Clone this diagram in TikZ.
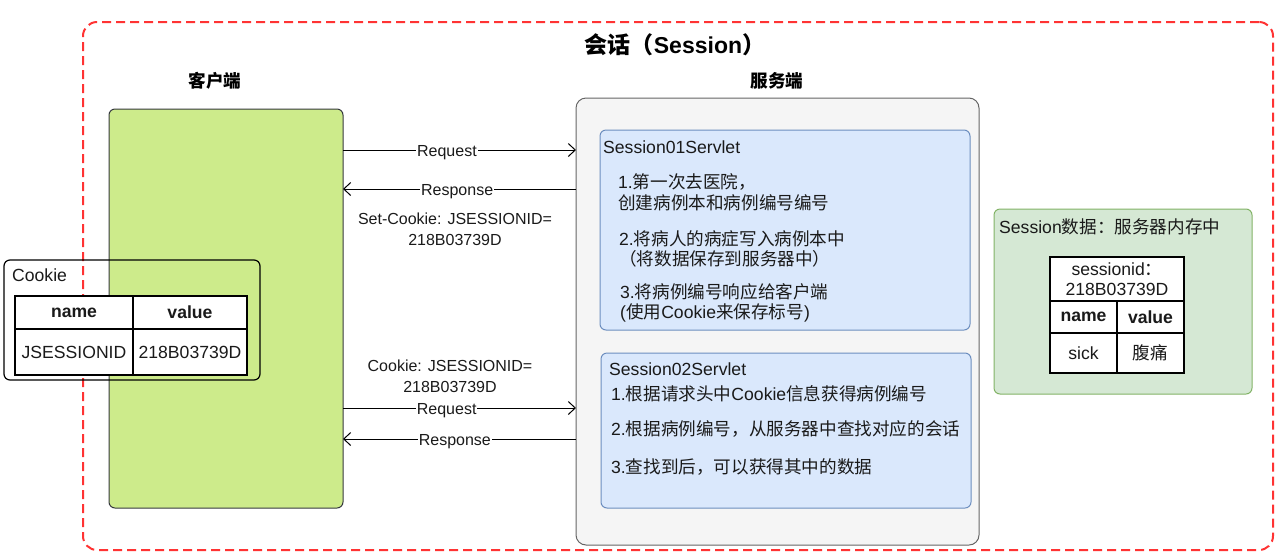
\documentclass[tikz,border=0pt]{standalone}
\usepackage{fontspec}
\setmainfont{Liberation Sans}
\newfontfamily\cjk{Noto Sans CJK SC}
\usetikzlibrary{arrows.meta}
\newcommand\zh[1]{{\cjk #1}}
\definecolor{dashred}{HTML}{FF3333}
\definecolor{clientgreen}{HTML}{CDEB8B}
\definecolor{clientline}{HTML}{36393D}
\definecolor{servergray}{HTML}{F5F5F5}
\definecolor{serverline}{HTML}{666666}
\definecolor{servletblue}{HTML}{DAE8FC}
\definecolor{servletline}{HTML}{6C8EBF}
\definecolor{datagreen}{HTML}{D5E8D4}
\definecolor{dataline}{HTML}{82B366}
\definecolor{txt}{HTML}{1A1A1A}
\tikzset{
  box/.style={draw, rectangle, inner sep=0pt, outer sep=0pt, anchor=north west, line width=1pt},
  cell/.style={draw, rectangle, line width=1.3pt, fill=white, inner sep=0pt, outer sep=0pt,
    anchor=north west, align=center, text=txt, font=\fontsize{17.6}{20.5}\selectfont},
  body/.style={text=txt, inner sep=0pt, align=left, font=\fontsize{17.6}{20.5}\selectfont},
  heading/.style={text=black, inner sep=0pt, font=\fontsize{17.6}{20.5}\selectfont\bfseries},
  arr/.style={-{Straight Barb[length=7pt,width=13pt]}, line width=1pt, draw=black},
  lbl/.style={fill=white, inner sep=1pt, yshift=-2.5pt, text=txt, font=\fontsize{16}{19}\selectfont},
  note/.style={text=txt, inner sep=0pt, align=center, font=\fontsize{16}{21}\selectfont}
}
\begin{document}
\begin{tikzpicture}[x=1pt,y=-1pt]
\useasboundingbox (0,0) rectangle (1280,558);
% outer session frame
\node[box, draw=dashred, line width=2pt, dash pattern=on 9pt off 5pt, rounded corners=14pt,
  minimum width=1190pt, minimum height=528pt] (frame) at (83,22) {};
\node[text=black, inner sep=0pt, font=\fontsize{23}{26}\selectfont\bfseries] (title) at (675,45)
  {\zh{会话（}Session\zh{）}};
\node[heading] (clienthead) at (215,81) {\zh{客户端}};
\node[heading] (serverhead) at (777,81) {\zh{服务端}};
% client and server
\node[box, draw=clientline, fill=clientgreen, rounded corners=6pt,
  minimum width=234pt, minimum height=399pt] (client) at (109,109) {};
\node[box, draw=serverline, fill=servergray, rounded corners=10pt,
  minimum width=403pt, minimum height=447pt] (server) at (576,98) {};
% servlets
\node[box, draw=servletline, fill=servletblue, rounded corners=6pt,
  minimum width=370pt, minimum height=200pt] (s1) at (600,130) {};
\node[box, draw=servletline, fill=servletblue, rounded corners=6pt,
  minimum width=370pt, minimum height=155pt] (s2) at (601,353) {};
\node[body, anchor=west] (s1title) at (603,147) {Session01Servlet};
\node[body, anchor=west] (s1a) at (618,192) {1.\zh{第一次去医院，}\\\zh{创建病例本和病例编号编号}};
\node[body, anchor=west] (s1b) at (619,249) {2.\zh{将病人的病症写入病例本中}\\\zh{（将数据保存到服务器中）}};
\node[body, anchor=west] (s1c) at (620,303) {3.\zh{将病例编号响应给客户端}\\(\zh{使用}Cookie\zh{来保存标号})};
\node[body, anchor=west] (s2title) at (609,369) {Session02Servlet};
\node[body, anchor=west] (s2a) at (611,394) {1.\zh{根据请求头中}Cookie\zh{信息获得病例编号}};
\node[body, anchor=west] (s2b) at (611,429) {2.\zh{根据病例编号，从服务器中查找对应的会话}};
\node[body, anchor=west] (s2c) at (611,467) {3.\zh{查找到后，可以获得其中的数据}};
% session data
\node[box, draw=dataline, fill=datagreen, rounded corners=6pt,
  minimum width=258pt, minimum height=185pt] (data) at (994,209) {};
\node[body, anchor=west] (datatitle) at (999,227) {Session\zh{数据：服务器内存中}};
\node[cell, minimum width=134pt, minimum height=44pt] (sid) at (1050,257) {sessionid\zh{：}\\218B03739D};
\node[cell, minimum width=67pt, minimum height=32pt, font=\fontsize{17.6}{20.5}\selectfont\bfseries] (dname) at (1050,301) {name};
\node[cell, minimum width=67pt, minimum height=32pt, font=\fontsize{17.6}{20.5}\selectfont\bfseries] (dvalue) at (1117,301) {value};
\node[cell, minimum width=67pt, minimum height=40pt] (dsick) at (1050,333) {sick};
\node[cell, minimum width=67pt, minimum height=40pt] (dpain) at (1117,333) {\zh{腹痛}};
% cookie
\node[box, draw=black, rounded corners=6pt, line width=1.2pt,
  minimum width=256pt, minimum height=120pt] (cookie) at (4,260) {};
\node[body, anchor=west] (cookietitle) at (12,275) {Cookie};
\node[cell, minimum width=118pt, minimum height=33pt, font=\fontsize{17.6}{20.5}\selectfont\bfseries] (cname) at (15,296) {name};
\node[cell, minimum width=114pt, minimum height=33pt, font=\fontsize{17.6}{20.5}\selectfont\bfseries] (cvalue) at (133,296) {value};
\node[cell, minimum width=118pt, minimum height=46pt] (cid) at (15,329) {JSESSIONID};
\node[cell, minimum width=114pt, minimum height=46pt] (cval) at (133,329) {218B03739D};
% connectors
\coordinate (y1) at (0,150);
\coordinate (y2) at (0,189);
\coordinate (y3) at (0,408);
\coordinate (y4) at (0,439);
\draw[arr] (client.east |- y1) -- node[lbl, pos=0.446] (req1) {Request} (server.west |- y1);
\draw[arr] (server.west |- y2) -- node[lbl, pos=0.51] (resp1) {Response} (client.east |- y2);
\draw[arr] (client.east |- y3) -- node[lbl, pos=0.445] (req2) {Request} (server.west |- y3);
\draw[arr] (server.west |- y4) -- node[lbl, pos=0.52] (resp2) {Response} (client.east |- y4);
\node[note] (setck) at (455,229) {Set-Cookie: JSESSIONID=\\218B03739D};
\node[note] (ck) at (450,376) {Cookie: JSESSIONID=\\218B03739D};
\end{tikzpicture}
\end{document}
